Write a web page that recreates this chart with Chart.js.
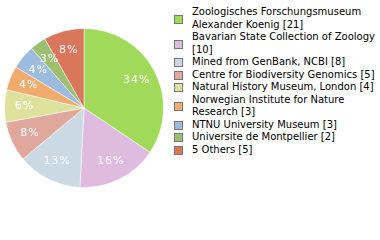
<!DOCTYPE html>
<html>
<head>
<meta charset="utf-8">
<script src="https://cdn.jsdelivr.net/npm/chart.js@4"></script>
<style>
  body { margin: 0; background: #fff; }
  #wrap { position: relative; width: 380px; height: 240px; }
  #pie-box { position: absolute; left: 4px; top: 28px; width: 160px; height: 160px; }
  #legend { position: absolute; left: 174px; top: 6px; font-family: "DejaVu Sans", sans-serif; font-size: 10px; color: #000; }
  .item { position: relative; padding-left: 18px; line-height: 12.5px; }
  .box { position: absolute; left: 0; top: 50%; width: 7px; height: 7px; margin-top: -4px; border: 1px solid #777; }
</style>
</head>
<body>
<div id="wrap">
  <div id="pie-box"><canvas id="pie"></canvas></div>
  <div id="legend"></div>
</div>
<script>
const labels = [
  ['Zoologisches Forschungsmuseum', 'Alexander Koenig'],
  ['Bavarian State Collection of Zoology'],
  ['Mined from GenBank, NCBI'],
  ['Centre for Biodiversity Genomics'],
  ['Natural History Museum, London'],
  ['Norwegian Institute for Nature', 'Research'],
  ['NTNU University Museum'],
  ['Universite de Montpellier'],
  ['5 Others']
];
const counts = [21, 10, 8, 5, 4, 3, 3, 2, 5];
const colors = ['#a1da5b', '#dfbbdf', '#cbd9e5', '#e0a79c', '#dee19c', '#f1ac6d', '#9cbbdf', '#9cc070', '#da765c'];

document.addEventListener('DOMContentLoaded', function () {
    // legend built from the arrays; counts go after the last line
    const legend = document.getElementById('legend');
    labels.forEach((lines, i) => {
        const item = document.createElement('div');
        item.className = 'item';
        const text = lines.slice();
        text[text.length - 1] += ' [' + counts[i] + ']';
        // "Bavarian ..." wraps its count onto a second line
        if (i === 1) text.push(text.pop().replace(' [', '\n['));
        item.innerHTML = '<span class="box" style="background:' + colors[i] + '"></span>' +
            text.join('\n').split('\n').join('<br>');
        legend.appendChild(item);
    });

    const total = counts.reduce((a, b) => a + b, 0);

    const pctLabels = {
        id: 'pctLabels',
        afterDatasetsDraw(chart) {
            const ctx = chart.ctx;
            const meta = chart.getDatasetMeta(0);
            ctx.save();
            ctx.fillStyle = '#fff';
            ctx.font = '11px "DejaVu Sans", sans-serif';
            ctx.letterSpacing = '1px';
            ctx.textAlign = 'center';
            ctx.textBaseline = 'middle';
            meta.data.forEach((arc, i) => {
                const p = arc.getProps(['x', 'y', 'startAngle', 'endAngle', 'outerRadius'], true);
                const mid = (p.startAngle + p.endAngle) / 2;
                const r = p.outerRadius * 0.75;
                const pct = Math.floor(counts[i] / total * 100) + '%';
                ctx.fillText(pct, p.x + Math.cos(mid) * r, p.y + Math.sin(mid) * r);
            });
            ctx.restore();
        }
    };

    new Chart(document.getElementById('pie'), {
        type: 'pie',
        data: {
            labels: labels.map(l => l.join(' ')),
            datasets: [{
                data: counts,
                backgroundColor: colors,
                borderColor: 'rgba(255,255,255,0.5)',
                borderWidth: 1
            }]
        },
        options: {
            responsive: true,
            maintainAspectRatio: false,
            animation: false,
            plugins: {
                legend: { display: false },
                tooltip: { enabled: false }
            }
        },
        plugins: [pctLabels]
    });
});
</script>
</body>
</html>
